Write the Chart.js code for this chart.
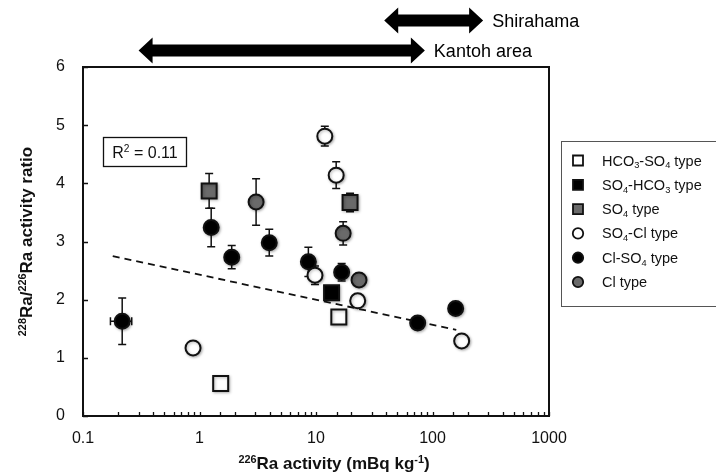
<!DOCTYPE html>
<html>
<head>
<meta charset="utf-8">
<script src="https://cdn.jsdelivr.net/npm/chart.js@4.4.1/dist/chart.umd.min.js"></script>
<style>
  html, body { margin: 0; padding: 0; background: #fff; }
  #wrap { width: 716px; height: 476px; }
</style>
</head>
<body>
<div id="wrap"><canvas id="chart" width="716" height="476"></canvas></div>
<script>
// values (x = 226Ra activity, y = 228Ra/226Ra ratio, err = +/- on y)
const hco3so4X = [1.52, 15.7];
const hco3so4Y = [0.56, 1.70];

const so4hco3X = [13.6];
const so4hco3Y = [2.12];

const so4X = [1.21, 19.6];
const so4Y = [3.87, 3.67];
const so4Err = [0.30, 0.16];

const so4clX = [0.88, 9.8, 11.9, 14.9, 22.8, 178];
const so4clY = [1.17, 2.42, 4.81, 4.14, 1.98, 1.29];
const so4clErr = [0, 0.16, 0.17, 0.23, 0, 0];

const clso4X = [0.217, 1.26, 1.89, 3.97, 8.6, 16.6, 74.6, 158];
const clso4Y = [1.63, 3.24, 2.73, 2.98, 2.65, 2.47, 1.60, 1.85];
const clso4Err = [0.40, 0.33, 0.20, 0.23, 0.25, 0.15, 0, 0];
const clso4ErrX = [0.045, 0, 0, 0, 0, 0, 0, 0];

const clX = [3.06, 17.1, 23.4];
const clY = [3.68, 3.14, 2.34];
const clErr = [0.40, 0.20, 0];

// log fit (dashed)
const trendX = [0.18, 160];
const trendY = [2.75, 1.48];

const typeLabels = ['HCO_{3}-SO_{4} type', 'SO_{4}-HCO_{3} type', 'SO_{4} type', 'SO_{4}-Cl type', 'Cl-SO_{4} type', 'Cl type'];
const xTickLabels = [0.1, 1, 10, 100, 1000];
const yTickLabels = [0, 1, 2, 3, 4, 5, 6];

// source ranges shown with arrows above the plot
const rangeNames = ['Shirahama', 'Kantoh area'];
const rangeMin = [38.5, 0.30];
const rangeMax = [272, 86];

const FONT = '"Liberation Sans", Arial, sans-serif';
const GRAY = '#6a6a6a';

function pts(xs, ys) { return xs.map((x, i) => ({ x: x, y: ys[i] })); }

// tiny markup: ^{..} superscript, _{..} subscript
function parseRich(str) {
  const parts = [];
  const re = /([_^])\{([^}]*)\}/g;
  let last = 0, m;
  while ((m = re.exec(str)) !== null) {
    if (m.index > last) parts.push({ t: str.slice(last, m.index) });
    parts.push({ t: m[2], s: m[1] === '^' ? 'sup' : 'sub' });
    last = re.lastIndex;
  }
  if (last < str.length) parts.push({ t: str.slice(last) });
  return parts;
}
function richWidth(ctx, parts, size, weight) {
  let w = 0;
  parts.forEach(p => {
    ctx.font = weight + ' ' + (p.s ? size * 0.64 : size) + 'px ' + FONT;
    w += ctx.measureText(p.t).width;
  });
  return w;
}
function drawRich(ctx, str, x, y, size, weight, align) {
  const parts = parseRich(str);
  let cx = x;
  if (align === 'center') cx = x - richWidth(ctx, parts, size, weight) / 2;
  ctx.textBaseline = 'alphabetic';
  ctx.textAlign = 'left';
  parts.forEach(p => {
    const fs = p.s ? size * 0.64 : size;
    ctx.font = weight + ' ' + fs + 'px ' + FONT;
    const dy = p.s === 'sup' ? -size * 0.36 : (p.s === 'sub' ? size * 0.2 : 0);
    ctx.fillText(p.t, cx, y + dy);
    cx += ctx.measureText(p.t).width;
  });
}

function doubleArrow(ctx, x1, x2, yc) {
  const sh = 6, hh = 13, hl = 14;
  ctx.beginPath();
  ctx.moveTo(x1, yc);
  ctx.lineTo(x1 + hl, yc - hh);
  ctx.lineTo(x1 + hl, yc - sh);
  ctx.lineTo(x2 - hl, yc - sh);
  ctx.lineTo(x2 - hl, yc - hh);
  ctx.lineTo(x2, yc);
  ctx.lineTo(x2 - hl, yc + hh);
  ctx.lineTo(x2 - hl, yc + sh);
  ctx.lineTo(x1 + hl, yc + sh);
  ctx.lineTo(x1 + hl, yc + hh);
  ctx.closePath();
  ctx.fill();
}

function marker(ctx, style, fill, x, y, r, lw) {
  ctx.fillStyle = fill;
  ctx.strokeStyle = '#111';
  ctx.lineWidth = lw;
  ctx.beginPath();
  if (style === 'rect') ctx.rect(x - r, y - r, 2 * r, 2 * r);
  else ctx.arc(x, y, r, 0, Math.PI * 2);
  ctx.fill();
  ctx.stroke();
}

const errorBars = {
  id: 'errorBars',
  beforeDatasetsDraw(chart) {
    const ctx = chart.ctx, xs = chart.scales.x, ys = chart.scales.y;
    ctx.save();
    ctx.strokeStyle = '#111';
    ctx.lineWidth = 1.5;
    chart.data.datasets.forEach(ds => {
      if (!ds.errY) return;
      ds.data.forEach((p, j) => {
        const px = xs.getPixelForValue(p.x), py = ys.getPixelForValue(p.y);
        const e = ds.errY[j];
        if (e) {
          const t = ys.getPixelForValue(p.y + e), b = ys.getPixelForValue(p.y - e);
          ctx.beginPath();
          ctx.moveTo(px, t); ctx.lineTo(px, b);
          ctx.moveTo(px - 4, t); ctx.lineTo(px + 4, t);
          ctx.moveTo(px - 4, b); ctx.lineTo(px + 4, b);
          ctx.stroke();
        }
        const ex = ds.errX ? ds.errX[j] : 0;
        if (ex) {
          const l = xs.getPixelForValue(p.x - ex), r = xs.getPixelForValue(p.x + ex);
          ctx.beginPath();
          ctx.moveTo(l, py); ctx.lineTo(r, py);
          ctx.moveTo(l, py - 4); ctx.lineTo(l, py + 4);
          ctx.moveTo(r, py - 4); ctx.lineTo(r, py + 4);
          ctx.stroke();
        }
      });
    });
    ctx.restore();
  }
};

// soft shadow under the markers, like the original
const markerShadow = {
  id: 'markerShadow',
  beforeDatasetDraw(chart, args) {
    if (args.meta.dataset && chart.data.datasets[args.index].showLine) return;
    const ctx = chart.ctx;
    ctx.save();
    ctx.shadowColor = 'rgba(0,0,0,0.3)';
    ctx.shadowBlur = 3;
    ctx.shadowOffsetX = 1;
    ctx.shadowOffsetY = 1;
    args.meta._shadowOn = true;
  },
  afterDatasetDraw(chart, args) {
    if (args.meta._shadowOn) {
      chart.ctx.restore();
      args.meta._shadowOn = false;
    }
  }
};

const decorations = {
  id: 'decorations',
  afterDraw(chart) {
    const ctx = chart.ctx, a = chart.chartArea, xs = chart.scales.x, ys = chart.scales.y;
    ctx.save();
    // frame
    ctx.strokeStyle = '#111';
    ctx.lineWidth = 2;
    ctx.strokeRect(a.left, a.top, a.right - a.left, a.bottom - a.top);
    // inner ticks
    ctx.lineWidth = 1.3;
    ctx.beginPath();
    xs.ticks.forEach(t => {
      const px = Math.round(xs.getPixelForValue(t.value)) + 0.5;
      ctx.moveTo(px, a.bottom); ctx.lineTo(px, a.bottom - 4);
    });
    ys.ticks.forEach(t => {
      const py = Math.round(ys.getPixelForValue(t.value)) + 0.5;
      ctx.moveTo(a.left, py); ctx.lineTo(a.left + 5, py);
    });
    ctx.stroke();

    ctx.fillStyle = '#111';
    // axis titles
    drawRich(ctx, '^{226}Ra activity (mBq kg^{-1})', 334, 469, 17, 'bold', 'center');
    ctx.save();
    ctx.translate(32, (a.top + a.bottom) / 2);
    ctx.rotate(-Math.PI / 2);
    drawRich(ctx, '^{228}Ra/^{226}Ra activity ratio', 0, 0, 17, 'bold', 'center');
    ctx.restore();

    // R2 box
    ctx.lineWidth = 1.3;
    ctx.strokeRect(103.5, 137.5, 83, 29);
    drawRich(ctx, 'R^{2} = 0.11', 145, 158, 16, 'normal', 'center');

    // range arrows
    const arrowY = [20.5, 50.5];
    rangeNames.forEach((name, i) => {
      const x1 = xs.getPixelForValue(rangeMin[i]), x2 = xs.getPixelForValue(rangeMax[i]);
      ctx.fillStyle = '#000';
      doubleArrow(ctx, x1, x2, arrowY[i]);
      drawRich(ctx, name, x2 + 9, arrowY[i] + 6.5, 18, 'normal', 'left');
    });

    // legend
    ctx.strokeStyle = '#555';
    ctx.lineWidth = 1;
    ctx.strokeRect(561.5, 141.5, 170, 165);
    chart.data.datasets.forEach((ds, i) => {
      if (ds.showLine) return;
      const ly = 160.5 + i * 24.3;
      marker(ctx, ds.pointStyle, ds.backgroundColor, 578, ly, ds.pointStyle === 'rect' ? 5 : 5.2, 1.8);
      ctx.fillStyle = '#111';
      drawRich(ctx, ds.label, 602, ly + 5, 14.5, 'normal', 'left');
    });
    ctx.restore();
  }
};

function typeSet(i, xs, ys, style, fill, errY, errX) {
  return {
    label: typeLabels[i],
    data: pts(xs, ys),
    pointStyle: style,
    pointRadius: style === 'rect' ? 10.6 : 7.5,
    backgroundColor: fill,
    borderColor: '#111',
    borderWidth: 2,
    errY: errY,
    errX: errX
  };
}

new Chart(document.getElementById('chart'), {
  type: 'scatter',
  data: {
    datasets: [
      typeSet(0, hco3so4X, hco3so4Y, 'rect', '#fff'),
      typeSet(1, so4hco3X, so4hco3Y, 'rect', '#000'),
      typeSet(2, so4X, so4Y, 'rect', GRAY, so4Err),
      typeSet(3, so4clX, so4clY, 'circle', '#fff', so4clErr),
      typeSet(4, clso4X, clso4Y, 'circle', '#000', clso4Err, clso4ErrX),
      typeSet(5, clX, clY, 'circle', GRAY, clErr),
      {
        label: 'fit',
        data: pts(trendX, trendY),
        showLine: true,
        borderColor: '#111',
        borderWidth: 1.8,
        borderDash: [7, 5],
        pointRadius: 0,
        fill: false
      }
    ]
  },
  options: {
    responsive: false,
    animation: false,
    events: [],
    layout: { padding: { left: 0, top: 67, right: 167, bottom: 0 } },
    plugins: {
      legend: { display: false },
      tooltip: { enabled: false }
    },
    scales: {
      x: {
        type: 'logarithmic',
        min: 0.1,
        max: 1000,
        grid: { display: false, drawTicks: false },
        border: { display: false },
        afterFit: s => { s.height = 60; },
        ticks: {
          autoSkip: false,
          maxRotation: 0,
          padding: 13,
          color: '#111',
          font: { size: 16, family: FONT },
          callback: v => {
            const hit = xTickLabels.find(t => Math.abs(t - v) < t * 1e-6);
            return hit !== undefined ? String(hit) : '';
          }
        }
      },
      y: {
        min: 0,
        max: 6,
        grid: { display: false, drawTicks: false },
        border: { display: false },
        afterFit: s => { s.width = 83; },
        ticks: {
          stepSize: 1,
          padding: 18,
          color: '#111',
          font: { size: 16, family: FONT },
          callback: v => yTickLabels.includes(v) ? String(v) : ''
        }
      }
    }
  },
  plugins: [errorBars, markerShadow, decorations]
});
</script>
</body>
</html>
